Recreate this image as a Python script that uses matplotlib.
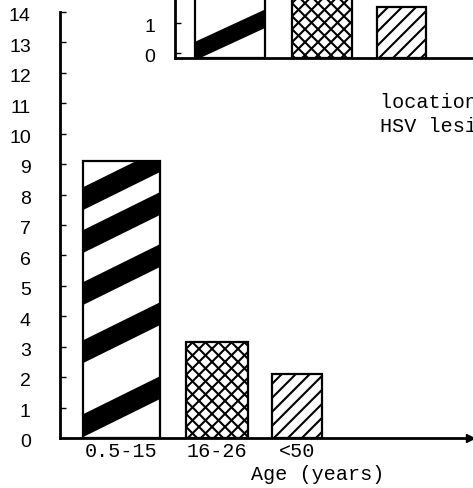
import numpy as np
import matplotlib
matplotlib.use("Agg")
import matplotlib.pyplot as plt
from matplotlib.patches import Polygon
from matplotlib.transforms import ScaledTranslation

# data
ages = ["0.5-15", "16-26", "<50"]
counts = [9.1, 3.15, 2.1]
inset_counts = [2.5, 2.5, 1.53]
y_ticks = list(range(0, 15))
inset_ticks = [0, 1]

# layout (x in pixel-like units)
bar_left = [23, 126, 212]
bar_width = [77, 62, 50]
inset_left = [20, 117, 202]
inset_width = [70, 60, 49]

W, H = 473, 488
mono = "Liberation Mono"
sans = "Liberation Sans"


def stripes(ax, bar, lows, thick, rise):
    # thick black bands running up to the right, clipped to the bar
    x0, y0 = bar.get_x(), bar.get_y()
    w = bar.get_width()
    for lo in lows:
        pts = [(x0, y0 + lo), (x0 + w, y0 + lo + rise),
               (x0 + w, y0 + lo + rise + thick), (x0, y0 + lo + thick)]
        p = Polygon(pts, closed=True, facecolor="black", edgecolor="none", zorder=2)
        ax.add_patch(p)
        p.set_clip_path(bar)


def diag(ax, bar, step, sy, signs, lw=1.5):
    x0, y0 = bar.get_x(), bar.get_y()
    w, h = bar.get_width(), bar.get_height() * sy
    t = np.array([0, w])
    for s in signs:
        for c in np.arange(-w - h, w + h, step):
            ln, = ax.plot(x0 + t, y0 + (c + s * t) / sy, color="black", lw=lw, zorder=2)
            ln.set_clip_path(bar)


fig = plt.figure(figsize=(W / 100, H / 100), dpi=100)
shift = ScaledTranslation(0, -2 / 72, fig.dpi_scale_trans)

# main chart
ax = fig.add_axes([60 / W, 50 / H, 410 / W, 426 / H])
ax.set_xlim(0, 410)
ax.set_ylim(0, 14)
sy = 426 / 14
bars = ax.bar(bar_left, counts, width=bar_width, align="edge",
              facecolor="none", edgecolor="black", linewidth=1.6, zorder=3)
white = ax.bar(bar_left, counts, width=bar_width, align="edge",
               facecolor="white", edgecolor="none", zorder=1)
stripes(ax, white[0], [0.03, 2.46, 4.37, 6.08, 7.49], 0.75, 1.25)
diag(ax, white[1], 13, sy, [1, -1])
diag(ax, white[2], 14, sy, [1])

for s in ["top", "right"]:
    ax.spines[s].set_visible(False)
for s in ["left", "bottom"]:
    ax.spines[s].set_linewidth(2)
ax.plot(1, 0, marker=">", color="black", ms=6, transform=ax.transAxes, clip_on=False)

ax.set_yticks(y_ticks)
ax.set_yticklabels([str(v) for v in y_ticks], fontfamily=sans, fontsize=14)
ax.tick_params(axis="y", direction="in", length=4, width=1, pad=21)
for lab in ax.get_yticklabels():
    lab.set_transform(lab.get_transform() + shift)
ax.set_xticks([l + w / 2 for l, w in zip(bar_left, bar_width)])
ax.set_xticklabels(ages, fontfamily=mono, fontsize=14.5)
ax.tick_params(axis="x", length=0, pad=3)

fig.text(318 / W, 1 - 474 / H, "Age (years)", ha="center", va="center",
         fontfamily=mono, fontsize=14.5)
fig.text(380 / W, 1 - 103 / H, "location of", ha="left", va="center",
         fontfamily=mono, fontsize=14.5)
fig.text(380 / W, 1 - 127 / H, "HSV lesions", ha="left", va="center",
         fontfamily=mono, fontsize=14.5)

# inset panel cut off at the top of the scan
ix = fig.add_axes([175 / W, 1 - 58 / H, 298 / W, 58 / H])
ix.set_xlim(0, 298)
ix.set_ylim(-0.17, 53 / 30)
isy = 30
ibars = ix.bar(inset_left, [v + 0.17 for v in inset_counts], bottom=-0.17,
               width=inset_width, align="edge", facecolor="none",
               edgecolor="black", linewidth=1.6, zorder=3)
iwhite = ix.bar(inset_left, [v + 0.17 for v in inset_counts], bottom=-0.17,
                width=inset_width, align="edge", facecolor="white",
                edgecolor="none", zorder=1)
stripes(ix, iwhite[0], [-0.08], 0.62, 1.08)
diag(ix, iwhite[1], 13, isy, [1, -1])
diag(ix, iwhite[2], 14, isy, [1])
for s in ["top", "right"]:
    ix.spines[s].set_visible(False)
for s in ["left", "bottom"]:
    ix.spines[s].set_linewidth(2)
ix.set_yticks(inset_ticks)
ix.set_yticklabels([str(v) for v in inset_ticks], fontfamily=sans, fontsize=14)
ix.tick_params(axis="y", direction="in", length=4, width=1, pad=14)
for lab in ix.get_yticklabels():
    lab.set_transform(lab.get_transform() + shift)
ix.set_xticks([])

fig.savefig("out.png", dpi=100)
